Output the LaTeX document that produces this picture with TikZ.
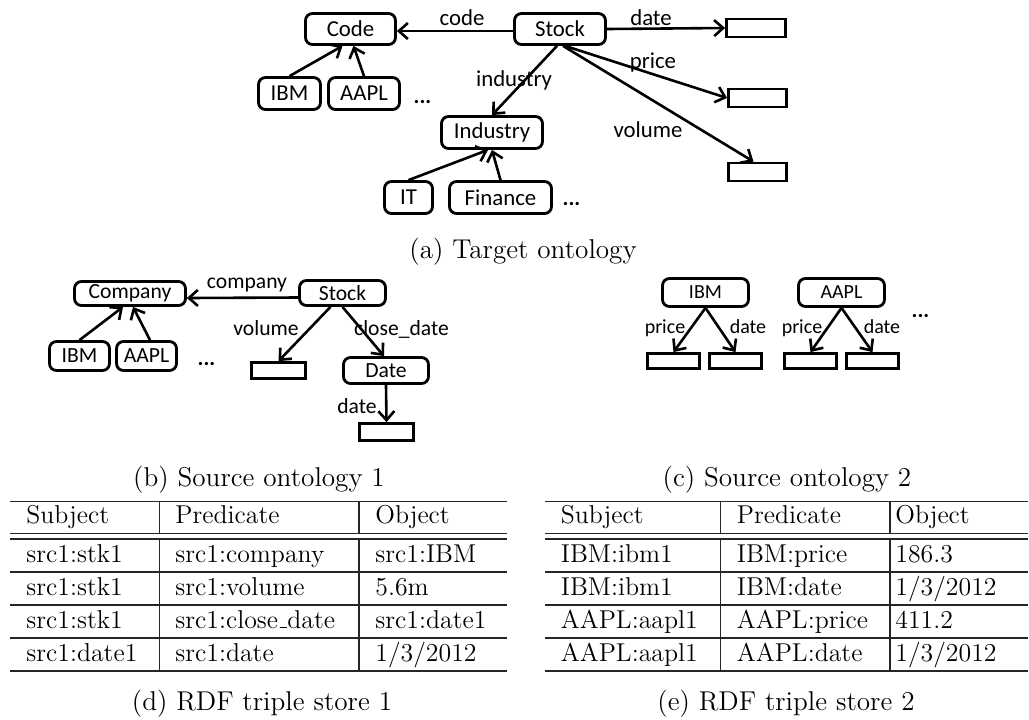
\documentclass[tikz,border=0pt]{standalone}
\usepackage{fontspec}
\newfontfamily\diagfont{Carlito}
\usetikzlibrary{arrows.meta,calc}
% low, short underscore as in the classic text encoding
\newcommand\lowbar{\leavevmode\kern.06em\vbox{\hrule width .3em height .5pt}}
\tikzset{
  sz/.style 2 args={minimum width={#1*0.5pt}, minimum height={#2*0.5pt}},
  box/.style={draw, line width=1.4pt, rounded corners=3.5pt, inner sep=0pt},
  leaf/.style={draw, line width=1.4pt, inner sep=0pt},
  rel/.style={line width=1.3pt, -{Straight Barb[length=4.5pt,width=8pt]}},
  lbl/.style={inner sep=0pt, anchor=base},
  dots/.style={inner sep=0pt, anchor=base, font=\diagfont\bfseries\fontsize{11}{13}\selectfont},
  big/.style={font=\diagfont\fontsize{11.4}{13}\selectfont},
  mid/.style={font=\diagfont\fontsize{10.8}{12}\selectfont},
  small/.style={font=\diagfont\fontsize{10}{12}\selectfont},
  rule/.style={line width=0.7pt, black!85},
  cell/.style={inner sep=0pt, anchor=base west, font=\fontsize{12.9}{15}\selectfont},
  caption/.style={inner sep=0pt, anchor=base, font=\fontsize{13.6}{16}\selectfont},
}
\begin{document}
\begin{tikzpicture}[x=0.5pt,y=-0.5pt]
\useasboundingbox (0,0) rectangle (1029,719);

% ---------- (a) target ontology ----------
\begin{scope}[big]
\node[box, sz={90}{31}] (code) at (350.5,29) {Code};
\node[box, sz={91}{31}] (stock) at (560,29) {Stock};
\node[leaf, sz={59}{18}] (dateval) at (756,28) {};
\node[leaf, sz={58}{18}] (priceval) at (757.5,98) {};
\node[leaf, sz={58}{18}] (volval) at (757.5,172) {};
\node[box, sz={62}{32}] (ibm) at (289.5,93.5) {IBM};
\node[box, sz={71}{32}] (aapl) at (364,93.5) {AAPL};
\node[dots] (more1) at (422.5,103.5) {...};
\node[box, sz={101}{32}] (industry) at (492,132.5) {Industry};
\node[box, sz={48}{32}] (it) at (408.5,197.5) {IT};
\node[box, sz={102}{32}] (finance) at (500.5,197.5) {Finance};
\node[dots] (more2) at (571.5,205.5) {...};

\draw[rel] ($(stock.west)+(0,2)$) -- ($(code.east)+(0,2)$);
\draw[rel] (stock.east) -- (dateval.west);
\draw[rel] ($(stock.south)+(5,0)$) -- (priceval.west);
\draw[rel] ($(stock.south)+(3,0)$) -- ($(volval.north)+(-4,0)$);
\draw[rel] ($(stock.south)+(-3,0)$) -- (industry.north);
\draw[rel] (ibm.north) -- ($(code.south)+(-8,0)$);
\draw[rel] (aapl.north) -- ($(code.south)+(3,0)$);
\draw[rel] (it.north) -- ($(industry.south)+(-4,0)$);
\draw[rel] (finance.north) -- (industry.south);

\node[lbl] (lcode) at (462,25.7) {code};
\node[lbl] (ldate) at (651,25.7) {date};
\node[lbl] (lprice) at (653,68) {price};
\node[lbl] (lindustry) at (514,86) {industry};
\node[lbl] (lvolume) at (648,137.5) {volume};
\end{scope}
\node[caption] (capa) at (523,258) {(a) Target ontology};

% ---------- (b) source ontology 1 ----------
\begin{scope}[mid]
\node[box, sz={111}{24}] (company) at (130,293.5) {Company};
\node[box, sz={86}{25}] (stocka) at (342.5,293) {Stock};
\node[box, sz={60}{29}] (ibma) at (79.5,356) {IBM};
\node[box, sz={60}{29}] (aapla) at (146.5,356) {AAPL};
\node[dots] (more3) at (206.5,365.5) {...};
\node[leaf, sz={54}{16}] (volvala) at (278.5,370.5) {};
\node[box, sz={85}{26}] (datea) at (386,370.5) {Date};
\node[leaf, sz={54}{17}] (datevala) at (386.5,432) {};

\draw[rel] ($(stocka.west)+(0,4.5)$) -- ($(company.east)+(0,4.5)$);
\draw[rel] ($(stocka.south)+(-12,0)$) -- (volvala.north);
\draw[rel] (stocka.south) -- ($(datea.north)+(-2,0)$);
\draw[rel] (datea.south) -- (datevala.north);
\draw[rel] (ibma.north) -- ($(company.south)+(-7,0)$);
\draw[rel] ($(aapla.north)+(3.5,0)$) -- ($(company.south)+(3,0)$);

\node[lbl] (lcompany) at (247,288) {company};
\node[lbl] (lvolumea) at (266,335) {volume};
\node[lbl] (lclose) at (401.5,335) {close\_date};
\node[lbl] (ldatea) at (357,413) {date};
\end{scope}
\node[caption] (capb) at (259,486) {(b) Source ontology 1};

% ---------- (c) source ontology 2 ----------
\begin{scope}[small]
\node[box, sz={86}{28}] (ibmb) at (705.5,292.5) {IBM};
\node[box, sz={86}{28}] (aaplb) at (841.5,292.5) {AAPL};
\node[leaf, sz={52}{15}] (ibmprice) at (673.5,361) {};
\node[leaf, sz={52}{15}] (ibmdate) at (735.5,361) {};
\node[leaf, sz={52}{15}] (aaplprice) at (810.5,361) {};
\node[leaf, sz={52}{15}] (aapldate) at (872.5,361) {};
\node[dots] (more4) at (920.5,317) {...};

\draw[rel] (ibmb.south) -- (ibmprice.north);
\draw[rel] (ibmb.south) -- (ibmdate.north);
\draw[rel] (aaplb.south) -- (aaplprice.north);
\draw[rel] (aaplb.south) -- (aapldate.north);

\node[lbl] (lpa) at (665,333) {price};
\node[lbl] (lda) at (748,333) {date};
\node[lbl] (lpb) at (802,333) {price};
\node[lbl] (ldb) at (882,333) {date};
\end{scope}
\node[caption] (capc) at (787,486) {(c) Source ontology 2};

% ---------- (d) RDF triple store 1 ----------
\draw[rule] (10,501.5) -- (507,501.5);
\draw[rule] (10,533.5) -- (507,533.5);
\draw[rule] (10,539) -- (507,539);
\foreach \y in {572,605,638,671} \draw[rule] (10,\y) -- (507,\y);
\draw[rule] (159.3,501.5) -- (159.3,533.5);
\draw[rule] (159.3,539) -- (159.3,671);
\draw[rule] (359,501.5) -- (359,533.5);
\draw[rule] (359,539) -- (359,671);

\node[cell] (ah1) at (26,523) {Subject};
\node[cell] (ah2) at (175,523) {Predicate};
\node[cell] (ah3) at (375,523) {Object};
\node[cell] (a11) at (26,562) {src1:stk1};
\node[cell] (a12) at (175,562) {src1:company};
\node[cell] (a13) at (375,562) {src1:IBM};
\node[cell] (a21) at (26,595) {src1:stk1};
\node[cell] (a22) at (175,595) {src1:volume};
\node[cell] (a23) at (375,595) {5.6m};
\node[cell] (a31) at (26,628) {src1:stk1};
\node[cell] (a32) at (175,628) {src1:close\lowbar date};
\node[cell] (a33) at (375,628) {src1:date1};
\node[cell] (a41) at (26,661) {src1:date1};
\node[cell] (a42) at (175,661) {src1:date};
\node[cell] (a43) at (375,661) {1/3/2012};
\node[caption] (capd) at (262,710) {(d) RDF triple store 1};

% ---------- (e) RDF triple store 2 ----------
\draw[rule] (545,501.5) -- (1028,501.5);
\draw[rule] (545,533.5) -- (1028,533.5);
\draw[rule] (545,539) -- (1028,539);
\foreach \y in {572,605,638,671} \draw[rule] (545,\y) -- (1028,\y);
\draw[rule] (720.7,501.5) -- (720.7,533.5);
\draw[rule] (720.7,539) -- (720.7,671);
\draw[rule] (890,501.5) -- (890,533.5);
\draw[rule] (890,539) -- (890,671);

\node[cell] (bh1) at (560.5,523) {Subject};
\node[cell] (bh2) at (736.5,523) {Predicate};
\node[cell] (bh3) at (895,523) {Object};
\node[cell] (b11) at (560.5,562) {IBM:ibm1};
\node[cell] (b12) at (736.5,562) {IBM:price};
\node[cell] (b13) at (895,562) {186.3};
\node[cell] (b21) at (560.5,595) {IBM:ibm1};
\node[cell] (b22) at (736.5,595) {IBM:date};
\node[cell] (b23) at (895,595) {1/3/2012};
\node[cell] (b31) at (560.5,628) {AAPL:aapl1};
\node[cell] (b32) at (736.5,628) {AAPL:price};
\node[cell] (b33) at (895,628) {411.2};
\node[cell] (b41) at (560.5,661) {AAPL:aapl1};
\node[cell] (b42) at (736.5,661) {AAPL:date};
\node[cell] (b43) at (895,661) {1/3/2012};
\node[caption] (cape) at (786,710) {(e) RDF triple store 2};
\end{tikzpicture}
\end{document}
